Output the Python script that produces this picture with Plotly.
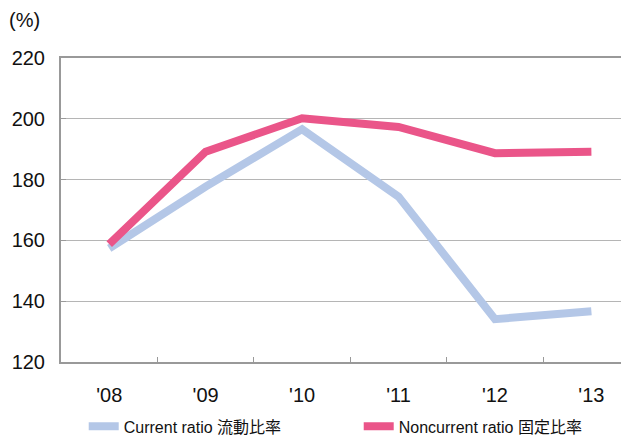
import plotly.graph_objects as go

years = ["'08", "'09", "'10", "'11", "'12", "'13"]
current_ratio = [157.4, 177.7, 196.6, 174.4, 134.1, 136.7]
noncurrent_ratio = [158.8, 189.2, 200.2, 197.3, 188.7, 189.2]
name_current = "Current ratio 流動比率"
name_noncurrent = "Noncurrent ratio 固定比率"
y_ticks = [120, 140, 160, 180, 200, 220]

FONT = "Liberation Sans, Arial, Noto Sans CJK JP, sans-serif"

fig = go.Figure()
fig.add_trace(go.Scatter(x=years, y=current_ratio, mode="lines", name=name_current,
                         line=dict(color="#B4C7E7", width=8)))
fig.add_trace(go.Scatter(x=years, y=noncurrent_ratio, mode="lines", name=name_noncurrent,
                         line=dict(color="#EA5589", width=8)))

# the page body has an 8px margin, so the figure is sized to fit the window
fig.update_layout(
    width=621, height=428,
    margin=dict(l=53, r=0, t=50, b=74, autoexpand=False),
    paper_bgcolor="white", plot_bgcolor="white",
    font=dict(family=FONT, color="#111111"),
    showlegend=True,
    legend=dict(orientation="h", x=0.04, xanchor="left", y=-0.212, yanchor="middle",
                font=dict(size=16, family=FONT), entrywidth=230, entrywidthmode="pixels",
                bgcolor="rgba(0,0,0,0)"),
    xaxis=dict(type="category", range=[-0.5, 5.39], showgrid=False,
               showline=True, linecolor="#999999", linewidth=2, mirror=True,
               ticks="inside", tickson="boundaries", ticklen=5, tickcolor="#999999",
               tickfont=dict(size=20), ticklabelstandoff=14),
    yaxis=dict(range=[120, 220], tickvals=y_ticks, showgrid=True, gridcolor="#B5B5B5",
               gridwidth=1, showline=True, linecolor="#999999", linewidth=2,
               ticks="inside", ticklen=5, tickcolor="#999999", zeroline=False,
               tickfont=dict(size=20), ticklabelstandoff=10),
    annotations=[dict(text="(%)", xref="paper", yref="paper", x=-0.095, y=1.125,
                      xanchor="left", yanchor="middle", showarrow=False,
                      font=dict(size=20, family=FONT))],
)

fig.write_html("out.html")
